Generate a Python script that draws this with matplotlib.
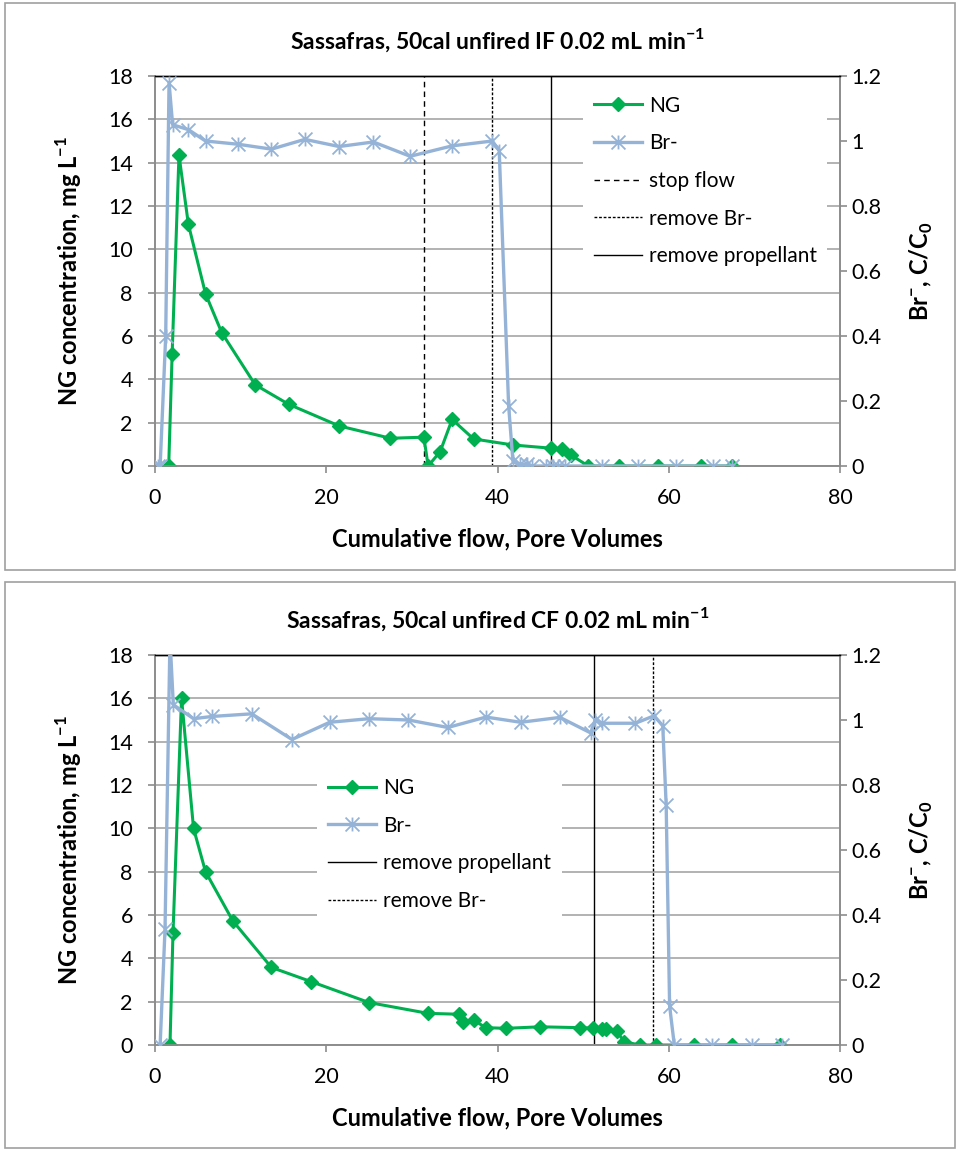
import matplotlib
matplotlib.use("Agg")
import matplotlib.pyplot as plt
from matplotlib.path import Path
from matplotlib.lines import Line2D
from matplotlib.patches import Rectangle

plt.rcParams['font.family'] = ['Lato', 'DejaVu Sans']
plt.rcParams['mathtext.fontset'] = 'custom'
plt.rcParams['mathtext.rm'] = 'Lato'
plt.rcParams['mathtext.bf'] = 'Lato:bold'

# --- data: top panel (IF) ---
if_title = r"Sassafras, 50cal unfired IF 0.02 mL min$^{\mathbf{-1}}$"
if_ng_x = [1.6, 2.0, 2.8, 3.9, 5.9, 7.8, 11.7, 15.6, 21.5, 27.5, 31.4, 31.9, 33.3, 34.7, 37.2,
           41.8, 46.3, 47.5, 48.6, 50.6, 54.2, 58.7, 63.8, 67.4]
if_ng_y = [0, 5.15, 14.35, 11.15, 7.95, 6.15, 3.75, 2.85, 1.85, 1.28, 1.33, 0, 0.66, 2.15, 1.25,
           0.97, 0.82, 0.8, 0.5, 0, 0, 0, 0, 0]
if_br_x = [0.3, 0.6, 1.25, 1.64, 2.06, 3.9, 5.9, 9.7, 13.6, 17.5, 21.5, 25.5, 29.8, 34.7, 39.4,
           40.2, 41.3, 41.8, 42.6, 43.4, 44.0, 45.7, 46.5, 47.1, 47.9, 52.2, 56.4, 60.8, 65.2, 67.4]
if_br_y = [0, 0, 0.40, 1.18, 1.05, 1.035, 1.0, 0.99, 0.975, 1.005, 0.983, 0.997, 0.953, 0.985, 1.0,
           0.97, 0.185, 0.015, 0.005, 0.005, 0, 0, 0, 0, 0, 0, 0, 0, 0, 0]
if_events = ["stop flow", "remove Br-", "remove propellant"]
if_event_x = [31.4, 39.4, 46.3]

# --- data: bottom panel (CF) ---
cf_title = r"Sassafras, 50cal unfired CF 0.02 mL min$^{\mathbf{-1}}$"
cf_ng_x = [1.75, 2.1, 3.1, 4.5, 5.9, 9.1, 13.6, 18.2, 25.0, 31.9, 35.5, 36.0, 37.25, 38.6, 41.0,
           45.0, 49.6, 51.2, 52.2, 52.7, 53.9, 54.8, 56.6, 58.5, 63.0, 67.4, 73.0]
cf_ng_y = [0, 5.15, 16.0, 10.0, 8.0, 5.72, 3.58, 2.93, 1.96, 1.46, 1.42, 1.05, 1.15, 0.8, 0.77,
           0.84, 0.8, 0.78, 0.74, 0.72, 0.65, 0.15, 0, 0, 0, 0, 0]
cf_br_x = [0.6, 1.17, 1.75, 2.14, 4.5, 6.7, 11.3, 16.0, 20.4, 25.0, 29.6, 34.2, 38.65, 42.7, 47.3,
           50.9, 51.4, 52.2, 56.1, 58.3, 59.3, 59.7, 60.1, 60.65, 65.1, 69.7, 73.2]
cf_br_y = [0, 0.356, 1.25, 1.047, 1.004, 1.011, 1.019, 0.94, 0.993, 1.004, 1.0, 0.977, 1.009, 0.993,
           1.008, 0.96, 1.0, 0.99, 0.99, 1.013, 0.982, 0.737, 0.12, 0, 0, 0, 0]
cf_events = ["remove propellant", "remove Br-"]
cf_event_x = [51.3, 58.2]

x_ticks = [0, 20, 40, 60, 80]
ng_ticks = [0, 2, 4, 6, 8, 10, 12, 14, 16, 18]
br_ticks = [0, 0.2, 0.4, 0.6, 0.8, 1.0, 1.2]
br_ticklabels = ["0", "0.2", "0.4", "0.6", "0.8", "1", "1.2"]

GREEN = "#00B050"
BLUE = "#95B3D7"
GRID = "#A6A6A6"
event_styles = {"stop flow": (0, (4, 3)), "remove Br-": (0, (2, 1.3)), "remove propellant": "-"}

star = Path([(0, -1), (0, 1), (-1, -1), (1, 1), (-1, 1), (1, -1)],
            [Path.MOVETO, Path.LINETO] * 3)

W, H = 958, 1151
fig = plt.figure(figsize=(W / 100, H / 100), dpi=100)

# chart area borders
for y0, y1 in [(3, 570), (582, 1148)]:
    fig.patches.append(Rectangle((5 / W, 1 - y1 / H), 950 / W, (y1 - y0) / H,
                                 transform=fig.transFigure, fill=False,
                                 edgecolor="#A0A0A0", lw=1.2))


def panel(top_px, title, ng_x, ng_y, br_x, br_y, events, event_x, leg_anchor):
    ax = fig.add_axes([155 / W, 1 - (top_px + 390) / H, 685 / W, 390 / H])
    ax2 = ax.twinx()
    ax.set_xlim(0, 80)
    ax.set_ylim(0, 18)
    ax2.set_ylim(0, 1.2)
    ax.set_xticks(x_ticks)
    ax.set_yticks(ng_ticks)
    ax2.set_yticks(br_ticks)
    ax2.set_yticklabels(br_ticklabels)
    ax.yaxis.grid(True, color=GRID, lw=1.2)
    ax.set_axisbelow(True)
    for a in (ax, ax2):
        for s in ("left", "right", "bottom"):
            a.spines[s].set_color("#8C8C8C")
            a.spines[s].set_linewidth(1.2)
        a.spines["top"].set_color("black")
        a.spines["top"].set_linewidth(1.0)
    ax.tick_params(axis="y", length=5, width=1.2, color="#8C8C8C", pad=11, labelsize=15.5)
    ax.tick_params(axis="x", length=5, width=1.2, color="#8C8C8C", pad=11, labelsize=15.5)
    ax2.tick_params(axis="y", length=5, width=1.2, color="#8C8C8C", pad=3, labelsize=15.5)

    handles = []
    for name, xv in zip(events, event_x):
        ax.axvline(xv, color="black", lw=1.0, ls=event_styles[name], zorder=2)
        handles.append(Line2D([], [], color="black", lw=1.0, ls=event_styles[name], label=name))

    ng, = ax.plot(ng_x, ng_y, color=GREEN, lw=2.2, marker="D", ms=7, label="NG", zorder=3)
    br, = ax2.plot(br_x, br_y, color=BLUE, lw=2.4, marker=star, ms=10, mew=1.3,
                   mec=BLUE, label="Br-", zorder=3)

    ax.set_title(title, fontsize=16.5, fontweight="bold", pad=20)
    ax.set_xlabel("Cumulative flow, Pore Volumes", fontsize=17, fontweight="bold", labelpad=14)
    ax.set_ylabel(r"NG concentration, mg L$^{\mathbf{-1}}$", fontsize=17, fontweight="bold", labelpad=17)
    ax2.set_ylabel(r"Br$^{\mathbf{-}}$, C/C$_{\mathbf{0}}$", fontsize=17, fontweight="bold", labelpad=19)

    leg = ax2.legend(handles=[ng, br] + handles, loc="upper left", bbox_to_anchor=leg_anchor,
                     fontsize=15, frameon=True, facecolor="white", edgecolor="none",
                     framealpha=1, fancybox=False, handlelength=2.3, handletextpad=0.35,
                     labelspacing=0.85, borderpad=0.5)
    leg.set_zorder(10)


panel(76, if_title, if_ng_x, if_ng_y, if_br_x, if_br_y, if_events, if_event_x, (0.61, 1.003))
panel(655, cf_title, cf_ng_x, cf_ng_y, cf_br_x, cf_br_y, cf_events, cf_event_x, (0.222, 0.738))

fig.savefig("out.png", dpi=100)
